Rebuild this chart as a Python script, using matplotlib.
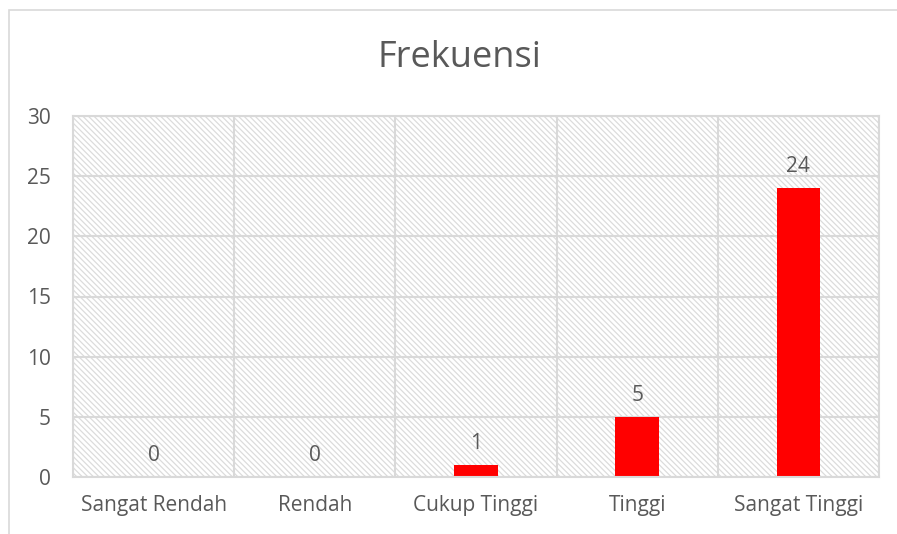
import matplotlib.pyplot as plt
import numpy as np
from matplotlib.patches import Rectangle

plt.rcParams["font.family"] = ["Open Sans", "DejaVu Sans"]
plt.rcParams["hatch.linewidth"] = 0.9

categories = ["Sangat Rendah", "Rendah", "Cukup Tinggi", "Tinggi", "Sangat Tinggi"]
frekuensi = [0, 0, 1, 5, 24]
yticks = [0, 5, 10, 15, 20, 25, 30]

TEXT = "#595959"
GRID = "#d9d9d9"

W, H = 897, 534
fig = plt.figure(figsize=(W / 100, H / 100), dpi=100)
ax = fig.add_axes([73 / W, 1 - 477 / H, (879 - 73) / W, (477 - 116) / H])

# outer chart border
fig.patches.append(Rectangle((8.5 / W, -0.1), 1.2, 1 - 10.5 / H + 0.1,
                             transform=fig.transFigure, fill=False,
                             edgecolor=GRID, lw=1.2, clip_on=False))

# hatched plot area
ax.add_patch(Rectangle((0, 0), 1, 1, transform=ax.transAxes, facecolor="white",
                       edgecolor="#dcdcdc", hatch="\\\\\\\\\\\\", lw=0, zorder=0.1))

x = np.arange(len(categories))
bars = ax.bar(x, frekuensi, width=0.27, color="#ff0000", zorder=2)
for xi, v in zip(x, frekuensi):
    ax.annotate(str(v), (xi, v), xytext=(0, 8), textcoords="offset points",
                ha="center", va="bottom", fontsize=15, color=TEXT)

ax.set_xlim(-0.5, len(categories) - 0.5)
ax.set_ylim(0, 30)
ax.set_yticks(yticks)
ax.set_xticks(x)
ax.set_xticklabels(categories)
ax.set_xticks(np.arange(len(categories) + 1) - 0.5, minor=True)
ax.tick_params(axis="both", which="both", length=0, labelsize=15, labelcolor=TEXT)
ax.tick_params(axis="y", pad=16)
ax.tick_params(axis="x", pad=13)
ax.grid(axis="y", which="major", color=GRID, lw=1.5, zorder=0.5)
ax.grid(axis="x", which="minor", color=GRID, lw=1.5, zorder=0.5)
ax.set_axisbelow(True)
for s in ax.spines.values():
    s.set_color(GRID)
    s.set_linewidth(1.5)

fig.text(459 / W, 1 - 58 / H, "Frekuensi", ha="center", va="center",
         fontsize=26, color=TEXT)

fig.savefig("out.png", dpi=100)
